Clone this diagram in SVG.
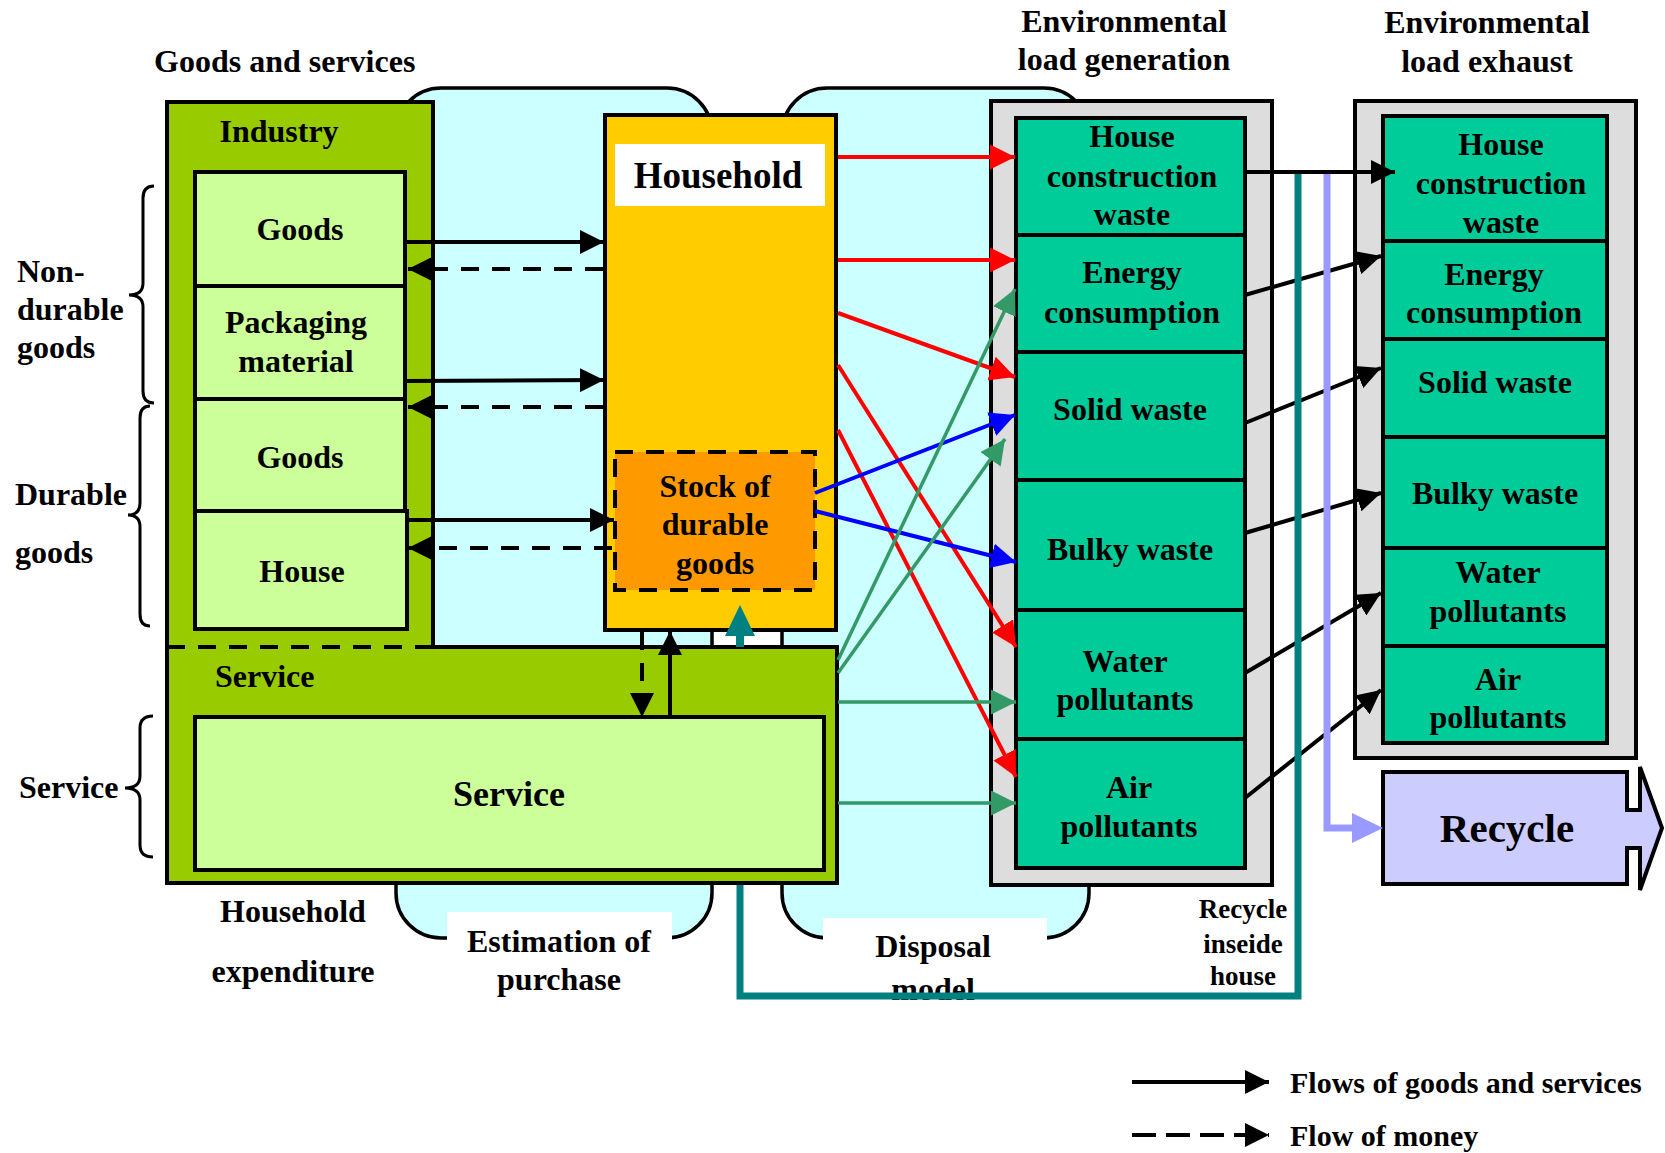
<svg xmlns="http://www.w3.org/2000/svg" width="1665" height="1153" viewBox="0 0 1665 1153">
<defs>
<style>
text{font-family:"Liberation Serif","Times New Roman",serif;font-weight:bold;fill:#000}
.f32{font-size:32px}
.f30{font-size:30px}
.f27{font-size:27px}
.c{text-anchor:middle}
.bx{stroke:#000;stroke-width:4}
.blk{stroke:#000;stroke-width:4;fill:none}
.dsh{stroke-dasharray:18 13}
.red{stroke:#FF0000;stroke-width:4;fill:none}
.blue{stroke:#0000FF;stroke-width:4;fill:none}
.grn{stroke:#339966;stroke-width:3.5;fill:none}
.cloud{fill:#CCFFFF;stroke:#000;stroke-width:3.5}
.lg{fill:#CCFF99}
.tl{fill:#00CC99}
.gr{fill:#DDDDDD}
</style>
<marker id="ab" markerUnits="userSpaceOnUse" markerWidth="24" markerHeight="24" refX="24" refY="12" orient="auto"><path d="M0,0 L24,12 L0,24 z" fill="#000"/></marker>
<marker id="ar" markerUnits="userSpaceOnUse" markerWidth="25" markerHeight="25" refX="25" refY="12.5" orient="auto"><path d="M0,0 L25,12.5 L0,25 z" fill="#FF0000"/></marker>
<marker id="au" markerUnits="userSpaceOnUse" markerWidth="25" markerHeight="25" refX="25" refY="12.5" orient="auto"><path d="M0,0 L25,12.5 L0,25 z" fill="#0000FF"/></marker>
<marker id="ag" markerUnits="userSpaceOnUse" markerWidth="25" markerHeight="25" refX="25" refY="12.5" orient="auto"><path d="M0,0 L25,12.5 L0,25 z" fill="#339966"/></marker>
</defs>
<rect x="0" y="0" width="1665" height="1153" fill="#fff"/>

<g id="estimation-model">
<rect class="cloud" x="396" y="88" width="316" height="850" rx="45"/>
<rect x="447" y="912" width="225" height="100" fill="#fff"/>
<text class="f32 c" x="559" y="952">Estimation of</text>
<text class="f32 c" x="559" y="990">purchase</text>
</g>
<g id="disposal-model">
<rect class="cloud" x="782" y="88" width="307" height="850" rx="45"/>
<rect x="823" y="918" width="224" height="100" fill="#fff"/>
<text class="f32 c" x="933" y="957">Disposal</text>
<text class="f32 c" x="933" y="1000">model</text>
</g>

<g id="titles">
<text class="f32" x="154" y="72">Goods and services</text>
<text class="f32 c" x="1124" y="32">Environmental</text>
<text class="f32 c" x="1124" y="70">load generation</text>
<text class="f32 c" x="1487" y="33">Environmental</text>
<text class="f32 c" x="1487" y="72">load exhaust</text>
</g>

<g id="braces">
<path class="blk" style="stroke-width:3" d="M154,186 Q143,186 143,198 L143,283 Q143,295 129,295 Q143,295 143,307 L143,391 Q143,403 154,403"/>
<path class="blk" style="stroke-width:3" d="M150,406 Q140,406 140,418 L140,503 Q140,515 128,515 Q140,515 140,527 L140,614 Q140,626 150,626"/>
<path class="blk" style="stroke-width:3" d="M153,716 Q140,716 140,728 L140,776 Q140,788 125,788 Q140,788 140,800 L140,845 Q140,857 153,857"/>
<text class="f32" x="17" y="282">Non-</text>
<text class="f32" x="17" y="320">durable</text>
<text class="f32" x="17" y="358">goods</text>
<text class="f32" x="15" y="505">Durable</text>
<text class="f32" x="15" y="563">goods</text>
<text class="f32" x="19" y="798">Service</text>
</g>

<g id="industry-service">
<path d="M167,102 H433 V647 H837 V883 H167 Z" fill="#99CC00" class="bx"/>
<line x1="167" y1="647" x2="433" y2="647" class="blk dsh"/>
<text class="f32 c" x="279" y="142">Industry</text>
<text class="f32" x="215" y="687">Service</text>
<text class="f32 c" x="293" y="922">Household</text>
<text class="f32 c" x="293" y="982">expenditure</text>
</g>
<g id="goods-nondurable"><rect class="lg bx" x="195" y="172" width="210" height="114"/><text class="f32 c" x="300" y="240">Goods</text></g>
<g id="packaging"><rect class="lg bx" x="195" y="286" width="210" height="113"/><text class="f32 c" x="296" y="333">Packaging</text><text class="f32 c" x="296" y="372">material</text></g>
<g id="goods-durable"><rect class="lg bx" x="195" y="399" width="210" height="112"/><text class="f32 c" x="300" y="468">Goods</text></g>
<g id="house"><rect class="lg bx" x="195" y="511" width="212" height="118"/><text class="f32 c" x="302" y="582">House</text></g>
<g id="service-inner"><rect class="lg bx" x="195" y="717" width="629" height="153"/><text class="c" style="font-size:36px" x="509" y="806">Service</text></g>

<g id="household">
<rect x="605" y="115" width="231" height="515" fill="#FFCC00" class="bx"/>
<rect x="615" y="144" width="210" height="62" fill="#fff"/>
<text class="c" style="font-size:37px" x="718" y="188">Household</text>
</g>
<g id="stock">
<rect x="615" y="452" width="200" height="138" fill="#FF9900" class="bx dsh"/>
<text class="f32 c" x="715" y="497">Stock of</text>
<text class="f32 c" x="715" y="535">durable</text>
<text class="f32 c" x="715" y="574">goods</text>
</g>

<g id="load-generation">
<rect class="gr bx" x="991" y="101" width="281" height="784"/>
<rect class="tl bx" x="1016" y="118" width="229" height="117"/>
<rect class="tl bx" x="1016" y="235" width="229" height="117"/>
<rect class="tl bx" x="1016" y="352" width="229" height="128"/>
<rect class="tl bx" x="1016" y="480" width="229" height="130"/>
<rect class="tl bx" x="1016" y="610" width="229" height="129"/>
<rect class="tl bx" x="1016" y="739" width="229" height="129"/>
<text class="f32 c" x="1132" y="147">House</text>
<text class="f32 c" x="1132" y="187">construction</text>
<text class="f32 c" x="1132" y="225">waste</text>
<text class="f32 c" x="1132" y="283">Energy</text>
<text class="f32 c" x="1132" y="323">consumption</text>
<text class="f32 c" x="1130" y="420">Solid waste</text>
<text class="f32 c" x="1130" y="560">Bulky waste</text>
<text class="f32 c" x="1125" y="672">Water</text>
<text class="f32 c" x="1125" y="710">pollutants</text>
<text class="f32 c" x="1129" y="798">Air</text>
<text class="f32 c" x="1129" y="837">pollutants</text>
</g>

<g id="load-exhaust">
<rect class="gr bx" x="1355" y="101" width="281" height="657"/>
<rect class="tl bx" x="1383" y="116" width="224" height="125"/>
<rect class="tl bx" x="1383" y="241" width="224" height="98"/>
<rect class="tl bx" x="1383" y="339" width="224" height="98"/>
<rect class="tl bx" x="1383" y="437" width="224" height="111"/>
<rect class="tl bx" x="1383" y="548" width="224" height="98"/>
<rect class="tl bx" x="1383" y="646" width="224" height="97"/>
<text class="f32 c" x="1501" y="155">House</text>
<text class="f32 c" x="1501" y="194">construction</text>
<text class="f32 c" x="1501" y="233">waste</text>
<text class="f32 c" x="1494" y="285">Energy</text>
<text class="f32 c" x="1494" y="323">consumption</text>
<text class="f32 c" x="1495" y="393">Solid waste</text>
<text class="f32 c" x="1495" y="504">Bulky waste</text>
<text class="f32 c" x="1498" y="583">Water</text>
<text class="f32 c" x="1498" y="622">pollutants</text>
<text class="f32 c" x="1498" y="690">Air</text>
<text class="f32 c" x="1498" y="728">pollutants</text>
</g>

<g id="recycle">
<polygon points="1383,772 1627,772 1627,810 1640,810 1640,767 1662,828 1640,890 1640,848 1627,848 1627,884 1383,884" fill="#CCCCFF" stroke="#000" stroke-width="4"/>
<text class="c" style="font-size:41px" x="1507" y="842">Recycle</text>
</g>

<g id="recycle-inside-label">
<text class="f27 c" x="1243" y="918">Recycle</text>
<text class="f27 c" x="1243" y="953">inseide</text>
<text class="f27 c" x="1243" y="985">house</text>
</g>

<g id="connectors">
<line x1="405" y1="242" x2="604" y2="242" class="blk" marker-end="url(#ab)"/>
<line x1="603" y1="269" x2="408" y2="269" class="blk dsh" marker-end="url(#ab)"/>
<line x1="405" y1="381" x2="604" y2="380" class="blk" marker-end="url(#ab)"/>
<line x1="603" y1="407" x2="408" y2="407" class="blk dsh" marker-end="url(#ab)"/>
<line x1="407" y1="520" x2="614" y2="520" class="blk" marker-end="url(#ab)"/>
<line x1="612" y1="548" x2="408" y2="548" class="blk dsh" marker-end="url(#ab)"/>
<line x1="642" y1="632" x2="642" y2="717" class="blk dsh" marker-end="url(#ab)"/>
<line x1="670" y1="717" x2="670" y2="631" class="blk" marker-end="url(#ab)"/>

<line x1="838" y1="157" x2="1015" y2="157" class="red" marker-end="url(#ar)"/>
<line x1="838" y1="260" x2="1015" y2="260" class="red" marker-end="url(#ar)"/>
<line x1="838" y1="313" x2="1015" y2="377" class="red" marker-end="url(#ar)"/>
<line x1="838" y1="365" x2="1016" y2="647" class="red" marker-end="url(#ar)"/>
<line x1="838" y1="430" x2="1016" y2="777" class="red" marker-end="url(#ar)"/>

<line x1="815" y1="493" x2="1015" y2="415" class="blue" marker-end="url(#au)"/>
<line x1="815" y1="511" x2="1016" y2="562" class="blue" marker-end="url(#au)"/>

<line x1="838" y1="660" x2="1015" y2="289" class="grn" marker-end="url(#ag)"/>
<line x1="838" y1="673" x2="1005" y2="439" class="grn" marker-end="url(#ag)"/>
<line x1="838" y1="702" x2="1016" y2="702" class="grn" marker-end="url(#ag)"/>
<line x1="838" y1="803" x2="1016" y2="803" class="grn" marker-end="url(#ag)"/>

<line x1="1245" y1="172" x2="1395" y2="172" class="blk" marker-end="url(#ab)"/>
<line x1="1245" y1="295" x2="1381" y2="256" class="blk" marker-end="url(#ab)"/>
<line x1="1245" y1="423" x2="1381" y2="368" class="blk" marker-end="url(#ab)"/>
<line x1="1245" y1="533" x2="1381" y2="493" class="blk" marker-end="url(#ab)"/>
<line x1="1245" y1="673" x2="1381" y2="593" class="blk" marker-end="url(#ab)"/>
<line x1="1245" y1="798" x2="1381" y2="690" class="blk" marker-end="url(#ab)"/>

<polyline points="1327,174 1327,828 1356,828" fill="none" stroke="#9999FF" stroke-width="7"/>
<polygon points="1352,813 1383,828 1352,843" fill="#9999FF"/>

<polyline points="740,885 740,996 1298,996 1298,174" fill="none" stroke="#008080" stroke-width="7"/>
<line x1="740" y1="647" x2="740" y2="632" stroke="#008080" stroke-width="8"/>
<polygon points="725,636 740,605 755,636" fill="#008080"/>
</g>

<g id="legend">
<line x1="1132" y1="1082" x2="1269" y2="1082" class="blk" marker-end="url(#ab)"/>
<text class="f30" x="1290" y="1093">Flows of goods and services</text>
<line x1="1132" y1="1135" x2="1269" y2="1135" class="blk" style="stroke-dasharray:24 10" marker-end="url(#ab)"/>
<text class="f30" x="1290" y="1146">Flow of money</text>
</g>
</svg>
